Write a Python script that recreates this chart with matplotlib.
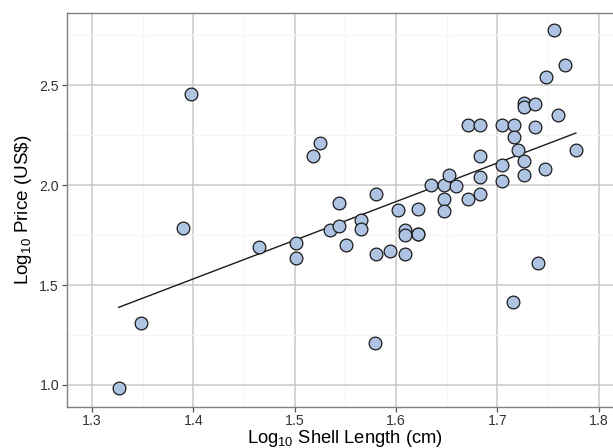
import numpy as np
import matplotlib
matplotlib.use("Agg")
import matplotlib.pyplot as plt
from matplotlib.ticker import MultipleLocator

plt.rcParams.update({
    "font.family": ["Liberation Sans", "DejaVu Sans"],
    "mathtext.fontset": "custom",
    "mathtext.rm": "Liberation Sans",
    "mathtext.it": "Liberation Sans:italic",
})

# log10 shell length (cm) and log10 price (US$)
log_length = [
    1.3263, 1.3480, 1.3895, 1.3977, 1.4652, 1.5011, 1.5014, 1.5185, 1.5248,
    1.5345, 1.5438, 1.5435, 1.5505, 1.5655, 1.5655, 1.5797, 1.5805, 1.5805,
    1.5943, 1.6018, 1.6085, 1.6085, 1.6085, 1.6215, 1.6215, 1.6220, 1.6346,
    1.6475, 1.6475, 1.6475, 1.6527, 1.6593, 1.6715, 1.6715, 1.6830, 1.6830,
    1.6830, 1.6830, 1.7050, 1.7050, 1.7050, 1.7160, 1.7160, 1.7157, 1.7199,
    1.7265, 1.7265, 1.7265, 1.7265, 1.7368, 1.7367, 1.7397, 1.7468, 1.7479,
    1.7564, 1.7597, 1.7663, 1.7775,
]
log_price = [
    0.9835, 1.3090, 1.7835, 2.4560, 1.6885, 1.7115, 1.6350, 2.1475, 2.2090,
    1.7770, 1.7970, 1.9125, 1.7000, 1.8275, 1.7800, 1.2115, 1.6550, 1.9560,
    1.6730, 1.8760, 1.7775, 1.7525, 1.6550, 1.8820, 1.7575, 1.7560, 2.0025,
    2.0000, 1.9310, 1.8700, 2.0525, 1.9965, 2.3000, 1.9310, 2.3000, 2.1475,
    2.0425, 1.9560, 2.3000, 2.1010, 2.0225, 2.3000, 2.2435, 1.4165, 2.1780,
    2.4140, 2.3940, 2.1225, 2.0510, 2.4065, 2.2900, 1.6090, 2.0800, 2.5425,
    2.7760, 2.3520, 2.6010, 2.1765,
]

x = np.array(log_length)
y = np.array(log_price)

# least-squares line over the range of the data
slope, intercept = np.polyfit(x, y, 1)
xfit = np.array([x.min(), x.max()])

fig = plt.figure(figsize=(6.13, 4.48), dpi=100)
ax = fig.add_axes([0.1088, 0.0922, 0.9075, 0.8795])

ax.scatter(x, y, s=84, facecolor="#aec4e2", edgecolor="#1a1a1a",
           linewidth=0.9, zorder=3)
ax.plot(xfit, slope * xfit + intercept, color="#1a1a1a", lw=1.0, zorder=2)

ax.set_xlim(1.275, 1.824)
ax.set_ylim(0.891, 2.864)
ax.xaxis.set_major_locator(MultipleLocator(0.1))
ax.xaxis.set_minor_locator(MultipleLocator(0.05))
ax.yaxis.set_major_locator(MultipleLocator(0.5))
ax.yaxis.set_minor_locator(MultipleLocator(0.25))
ax.set_xticklabels([f"{v:.1f}" for v in ax.get_xticks()])
ax.set_yticklabels([f"{v:.1f}" for v in ax.get_yticks()])

ax.grid(True, which="major", color="#c9c9c9", lw=1.1)
ax.grid(True, which="minor", color="#f5f5f5", lw=0.9)
ax.set_axisbelow(True)

for side in ("left", "top", "bottom", "right"):
    ax.spines[side].set_color("#808080")
    ax.spines[side].set_linewidth(1.0)

ax.tick_params(which="major", length=3.5, width=0.9, color="#555555",
               labelsize=10.2, labelcolor="#333333", pad=2)
ax.tick_params(which="minor", length=0)

ax.set_xlabel(r"Log$_{10}$ Shell Length (cm)", fontsize=13.2, labelpad=-0.5)
ax.set_ylabel(r"Log$_{10}$ Price (US\$)", fontsize=13.6, labelpad=4)

fig.savefig("out.png", dpi=100)
